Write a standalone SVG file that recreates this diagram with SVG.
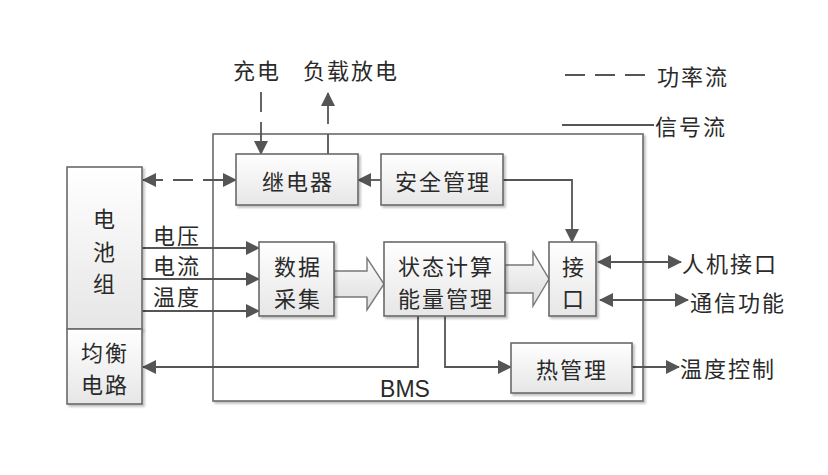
<svg xmlns="http://www.w3.org/2000/svg" width="828" height="475" viewBox="0 0 828 475">
<style>
text{font-family:"Noto Sans CJK SC","Liberation Sans",sans-serif;fill:#2a2a2a;dominant-baseline:central}
.lbl{font-size:22px;letter-spacing:2px}
.mid{text-anchor:middle}
.box{fill:url(#g);stroke:#6a6a6a;stroke-width:1.6;filter:url(#sh)}
.ln{fill:none;stroke:#555;stroke-width:1.8}
.dash{stroke-dasharray:20 10}
.arr{marker-end:url(#ah)}
.bi{marker-start:url(#ah);marker-end:url(#ah)}
.hollow{fill:url(#g2);stroke:#777;stroke-width:1.4}
</style>
<defs>
<linearGradient id="g" x1="0" y1="0" x2="0" y2="1"><stop offset="0" stop-color="#ffffff"/><stop offset="1" stop-color="#e6e6e6"/></linearGradient>
<linearGradient id="g2" x1="0" y1="0" x2="0" y2="1"><stop offset="0" stop-color="#fafafa"/><stop offset="1" stop-color="#dcdcdc"/></linearGradient>
<filter id="sh" x="-10%" y="-10%" width="130%" height="130%"><feDropShadow dx="2" dy="2" stdDeviation="1.2" flood-color="#000" flood-opacity="0.25"/></filter>
<marker id="ah" viewBox="0 0 14 14" refX="13" refY="7" markerWidth="14" markerHeight="14" markerUnits="userSpaceOnUse" orient="auto-start-reverse"><path d="M0,0 L14,7 L0,14 z" fill="#555"/></marker>
</defs>
<rect width="828" height="475" fill="#fff"/>

<g id="bms">
<rect x="213" y="134" width="430" height="267" fill="#fff" stroke="#6a6a6a" stroke-width="1.6" filter="url(#sh)"/>
<text x="405" y="389" class="mid" style="font-family:'Liberation Sans',sans-serif;font-size:23px">BMS</text>
</g>

<g id="legend">
<line x1="565" y1="75" x2="645" y2="75" class="ln dash"/>
<text x="657" y="75" class="lbl">功率流</text>
<line x1="562" y1="125" x2="654" y2="125" class="ln"/>
<text x="655" y="125" class="lbl">信号流</text>
</g>

<g id="top-labels">
<text x="233" y="69" class="lbl">充电</text>
<text x="303" y="69" class="lbl">负载放电</text>
</g>

<g id="connectors">
<line x1="261" y1="92" x2="261" y2="154" class="ln dash arr"/>
<line x1="328" y1="154" x2="328" y2="93" class="ln dash arr"/>
<line x1="143" y1="180" x2="236" y2="180" class="ln dash bi"/>
<line x1="381" y1="180" x2="358" y2="180" class="ln arr"/>
<polyline points="503,180 572,180 572,242" class="ln arr"/>
<line x1="142" y1="248" x2="259" y2="248" class="ln arr"/>
<line x1="142" y1="279" x2="259" y2="279" class="ln arr"/>
<line x1="142" y1="311" x2="259" y2="311" class="ln arr"/>
<polygon points="334,271 367,271 367,258 384,284 367,310 367,297 334,297" class="hollow"/>
<polygon points="505,265 533,265 533,252 549,279 533,306 533,293 505,293" class="hollow"/>
<line x1="598" y1="262" x2="681" y2="262" class="ln bi"/>
<line x1="600" y1="300" x2="688" y2="300" class="ln bi"/>
<polyline points="418,316 418,367 143,367" class="ln arr"/>
<polyline points="445,316 445,367 511,367" class="ln arr"/>
<line x1="632" y1="367" x2="679" y2="367" class="ln arr"/>
</g>

<g id="battery">
<rect x="67" y="167" width="75" height="162" class="box"/>
<text x="104" y="217" class="lbl mid" style="letter-spacing:0">电</text>
<text x="104" y="250" class="lbl mid" style="letter-spacing:0">池</text>
<text x="104" y="282" class="lbl mid" style="letter-spacing:0">组</text>
</g>
<g id="balance">
<rect x="67" y="329" width="75" height="75" class="box"/>
<text x="105" y="351" class="lbl mid">均衡</text>
<text x="105" y="383" class="lbl mid">电路</text>
</g>

<g id="input-labels">
<text x="153" y="234" class="lbl">电压</text>
<text x="153" y="264" class="lbl">电流</text>
<text x="153" y="295" class="lbl">温度</text>
</g>

<g id="relay">
<rect x="236" y="154" width="122" height="51" class="box"/>
<text x="298" y="180" class="lbl mid">继电器</text>
</g>
<g id="safety">
<rect x="381" y="154" width="122" height="51" class="box"/>
<text x="443" y="180" class="lbl mid">安全管理</text>
</g>
<g id="acquisition">
<rect x="259" y="242" width="75" height="74" class="box"/>
<text x="298" y="265" class="lbl mid">数据</text>
<text x="298" y="297" class="lbl mid">采集</text>
</g>
<g id="soc">
<rect x="384" y="242" width="121" height="74" class="box"/>
<text x="446" y="265" class="lbl mid">状态计算</text>
<text x="446" y="297" class="lbl mid">能量管理</text>
</g>
<g id="interface">
<rect x="549" y="242" width="47" height="74" class="box"/>
<text x="573" y="265" class="lbl mid" style="letter-spacing:0">接</text>
<text x="573" y="297" class="lbl mid" style="letter-spacing:0">口</text>
</g>
<g id="thermal">
<rect x="511" y="343" width="121" height="50" class="box"/>
<text x="572" y="368" class="lbl mid">热管理</text>
</g>

<g id="outputs">
<text x="682" y="262" class="lbl">人机接口</text>
<text x="690" y="301" class="lbl">通信功能</text>
<text x="680" y="367" class="lbl">温度控制</text>
</g>
</svg>
